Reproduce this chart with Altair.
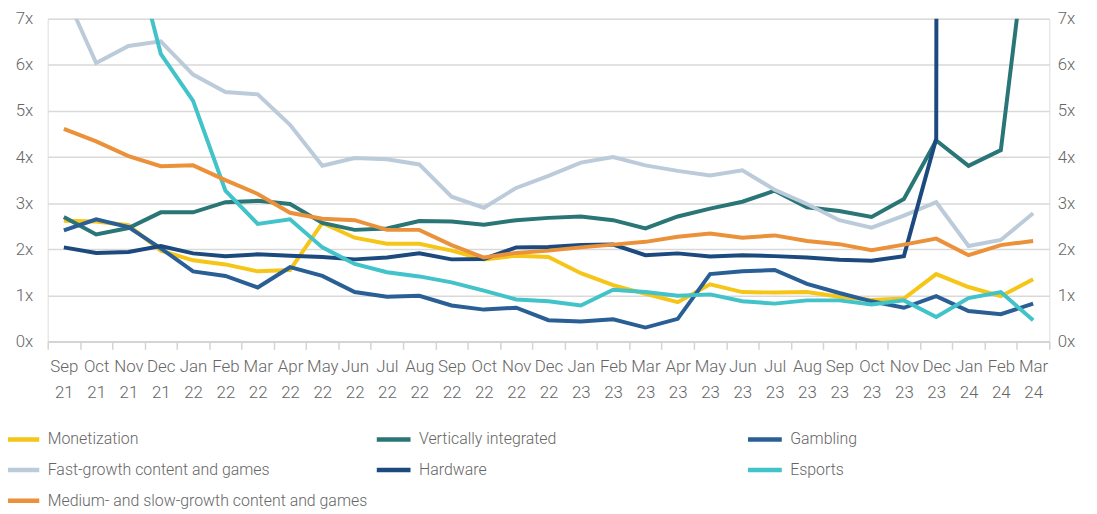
import altair as alt
import pandas as pd

months = ["Sep 21", "Oct 21", "Nov 21", "Dec 21", "Jan 22", "Feb 22", "Mar 22", "Apr 22",
          "May 22", "Jun 22", "Jul 22", "Aug 22", "Sep 22", "Oct 22", "Nov 22", "Dec 22",
          "Jan 23", "Feb 23", "Mar 23", "Apr 23", "May 23", "Jun 23", "Jul 23", "Aug 23",
          "Sep 23", "Oct 23", "Nov 23", "Dec 23", "Jan 24", "Feb 24", "Mar 24"]

series_names = ["Monetization", "Vertically integrated", "Gambling",
                "Fast-growth content and games", "Hardware", "Esports",
                "Medium- and slow-growth content and games"]
series_colors = ["#F5C518", "#2A7576", "#2A5F96", "#BCCBDA", "#1C4A7E", "#42C2C9", "#EB913A"]

monetization = [2.62, 2.6, 2.52, 1.97, 1.76, 1.67, 1.52, 1.55, 2.57, 2.25, 2.12, 2.12, 1.97, 1.78,
                1.86, 1.83, 1.48, 1.22, 1.03, 0.85, 1.24, 1.07, 1.06, 1.07, 0.97, 0.9, 0.93, 1.46,
                1.18, 0.98, 1.35]
vertically_integrated = [2.7, 2.32, 2.46, 2.8, 2.8, 3.02, 3.05, 2.98, 2.57, 2.42, 2.45, 2.61, 2.6,
                         2.53, 2.63, 2.68, 2.71, 2.63, 2.45, 2.71, 2.88, 3.03, 3.27, 2.91, 2.83,
                         2.7, 3.09, 4.36, 3.81, 4.15, 9.9]
gambling = [2.41, 2.65, 2.48, 2.02, 1.52, 1.42, 1.17, 1.61, 1.42, 1.07, 0.97, 0.99, 0.78, 0.69,
            0.73, 0.46, 0.43, 0.48, 0.3, 0.49, 1.46, 1.52, 1.55, 1.25, 1.05, 0.87, 0.73, 0.98,
            0.66, 0.59, 0.82]
fast_growth = [7.6, 6.04, 6.41, 6.51, 5.79, 5.41, 5.36, 4.7, 3.81, 3.98, 3.95, 3.84, 3.14, 2.9,
               3.33, 3.59, 3.88, 4.0, 3.82, 3.7, 3.6, 3.71, 3.29, 2.98, 2.63, 2.47, 2.73, 3.02,
               2.07, 2.2, 2.78]
hardware = [2.04, 1.92, 1.94, 2.07, 1.91, 1.85, 1.89, 1.86, 1.83, 1.78, 1.82, 1.91, 1.78, 1.79,
            2.04, 2.05, 2.09, 2.1, 1.87, 1.91, 1.84, 1.87, 1.85, 1.82, 1.77, 1.75, 1.85, 4.4,
            500.0, None, None]
esports = [11.0, 10.0, 8.95, 6.24, 5.22, 3.27, 2.55, 2.65, 2.04, 1.68, 1.5, 1.41, 1.28, 1.1,
           0.91, 0.87, 0.78, 1.12, 1.07, 0.99, 1.02, 0.87, 0.82, 0.89, 0.89, 0.8, 0.89, 0.53,
           0.94, 1.07, 0.46]
medium_slow = [4.61, 4.34, 4.02, 3.8, 3.82, 3.5, 3.2, 2.79, 2.66, 2.63, 2.42, 2.42, 2.09, 1.82,
               1.92, 1.97, 2.04, 2.1, 2.16, 2.27, 2.34, 2.25, 2.3, 2.18, 2.11, 1.98, 2.1, 2.23,
               1.87, 2.09, 2.18]

all_values = [monetization, vertically_integrated, gambling, fast_growth, hardware, esports, medium_slow]

rows = []
for name, vals in zip(series_names, all_values):
    for m, v in zip(months, vals):
        if v is not None:
            rows.append({"month": m, "series": name, "value": v, "order": series_names.index(name)})
df = pd.DataFrame(rows)

FONT = "Roboto"
GREY = "#666666"

x = alt.X("month:N", sort=months, bandPosition=0.5,
          scale=alt.Scale(type="band", paddingInner=0, paddingOuter=0),
          axis=alt.Axis(title=None, tickBand="extent", grid=False, labelAngle=0,
                        labelExpr="split(datum.label, ' ')", labelFont=FONT, labelFontSize=17,
                        labelFontWeight=300, labelColor=GREY, labelLineHeight=27, labelPadding=9,
                        tickSize=8, tickColor="#d4d4d4", tickWidth=1.5, domainColor="#d4d4d4",
                        domainWidth=2, labelBaseline="top"))

yscale = alt.Scale(domain=[0, 7], nice=False)

lines = alt.Chart(df).mark_line(strokeWidth=4, clip=True).encode(
    x=x,
    y=alt.Y("value:Q", scale=yscale,
            axis=alt.Axis(title=None, values=[0, 1, 2, 3, 4, 5, 6, 7], labelExpr="datum.value + 'x'",
                          labelFont=FONT, labelFontSize=17, labelFontWeight=300, labelColor=GREY,
                          ticks=False, domain=False, labelPadding=15, gridColor="#d9d9d9",
                          gridWidth=1.5)),
    color=alt.Color("series:N", sort=series_names,
                    scale=alt.Scale(domain=series_names, range=series_colors),
                    legend=alt.Legend(orient="none", legendX=-45, legendY=404, columns=3,
                                      direction="horizontal", title=None, symbolType="stroke",
                                      symbolStrokeWidth=4.5, symbolSize=1156, labelFont=FONT,
                                      labelFontSize=16, labelFontWeight=300, labelColor=GREY,
                                      labelLimit=0, gridAlign="all", columnPadding=-1,
                                      rowPadding=2, labelOffset=6, padding=0)),
    order=alt.Order("order:Q"),
    detail="series:N",
)

right = alt.Chart(df).mark_line(opacity=0).encode(
    x=x,
    y=alt.Y("value:Q", scale=yscale,
            axis=alt.Axis(title=None, orient="right", values=[0, 1, 2, 3, 4, 5, 6, 7],
                          labelExpr="datum.value + 'x'", labelFont=FONT, labelFontSize=17,
                          labelFontWeight=300, labelColor=GREY, ticks=False, domain=False,
                          grid=False, labelPadding=8)),
    detail="series:N",
)

chart = alt.layer(lines, right).resolve_scale(y="independent").properties(
    width=1009, height=325,
    autosize=alt.AutoSizeParams(type="none"),
    padding={"left": 40, "top": 9, "right": 40, "bottom": 170},
).configure_view(stroke=None).configure(background="white")

chart.save("out.html", embed_options={"renderer": "svg", "actions": False})
